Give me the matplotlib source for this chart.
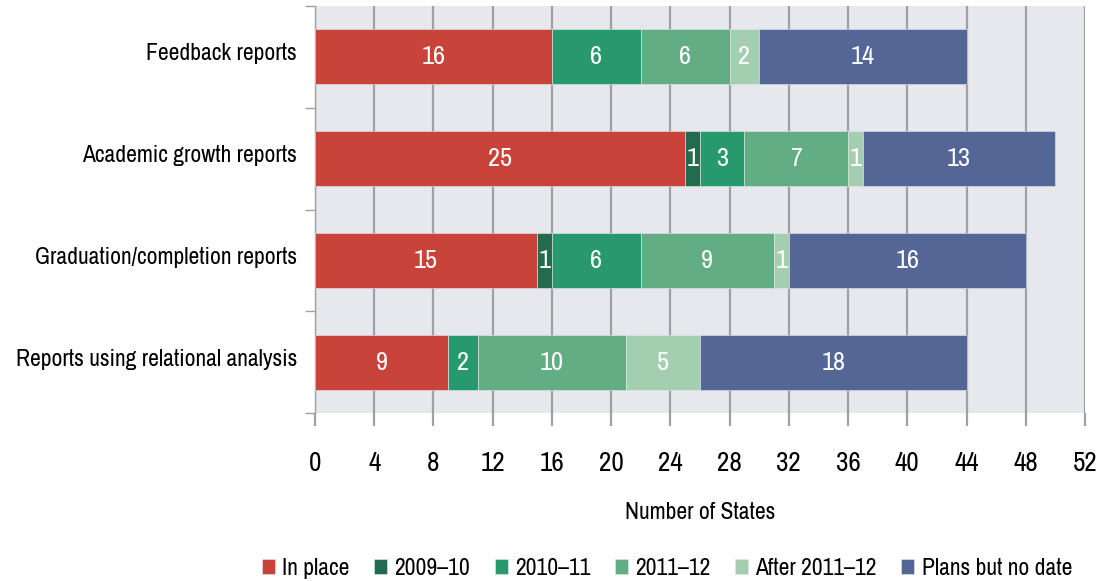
import matplotlib
matplotlib.use("Agg")
import matplotlib.pyplot as plt
import matplotlib.transforms as mtransforms
from matplotlib.ticker import FixedLocator
from matplotlib import font_manager

installed = {f.name for f in font_manager.fontManager.ttflist}
preferred = ["Arial Narrow", "Liberation Sans Narrow", "Archivo Narrow",
             "PT Sans Narrow", "Roboto Condensed", "Liberation Sans"]
family = [f for f in preferred if f in installed][:1] + ["DejaVu Sans"]
plt.rcParams["font.family"] = family

categories = [
    "Feedback reports",
    "Academic growth reports",
    "Graduation/completion reports",
    "Reports using relational analysis",
]
series_names = ["In place", "2009\u201310", "2010\u201311", "2011\u201312",
                "After 2011\u201312", "Plans but no date"]
in_place = [16, 25, 15, 9]
y2009_10 = [0, 1, 1, 0]
y2010_11 = [6, 3, 6, 2]
y2011_12 = [6, 7, 9, 10]
after_2011_12 = [2, 1, 1, 5]
plans_no_date = [14, 13, 16, 18]
series_values = [in_place, y2009_10, y2010_11, y2011_12, after_2011_12, plans_no_date]
x_ticks = list(range(0, 53, 4))

colors = ["#c8443a", "#226b4f", "#28996e", "#62ad84", "#a3cfb0", "#536696"]

fig = plt.figure(figsize=(11.06, 5.81), dpi=100)
ax = fig.add_axes([0.2848, 0.289, 0.6962, 0.7007])
ax.set_facecolor("#e7e8ee")

ypos = list(range(len(categories)))
left = [0] * len(categories)
for name, vals, col in zip(series_names, series_values, colors):
    bars = ax.barh(ypos, vals, left=left, height=0.54, color=col, label=name,
                   edgecolor="#e7e8ee", linewidth=0.4, zorder=3)
    for b, v in zip(bars, vals):
        if v > 0:
            ax.text(b.get_x() + b.get_width() / 2, b.get_y() + b.get_height() / 2,
                    str(v), ha="center", va="center", color="white",
                    fontsize=19, zorder=4)
    left = [l + v for l, v in zip(left, vals)]

ax.set_xlim(0, 52)
ax.set_ylim(len(categories) - 0.5, -0.5)
ax.set_xticks(x_ticks)
ax.set_xticklabels([str(t) for t in x_ticks], fontsize=19.5)
ax.tick_params(axis="x", direction="out", length=9, width=1.6, color="#a0a0a0",
               pad=18)
ax.xaxis.grid(True, color="#a0a0a0", linewidth=1.6, zorder=1)
ax.set_axisbelow(True)

ax.set_yticks(ypos)
ax.set_yticklabels(categories, fontsize=17)
ax.tick_params(axis="y", which="major", length=0, pad=13)
# category labels sit a little above the bar centre
lift = mtransforms.ScaledTranslation(0, 0.05, fig.dpi_scale_trans)
for lbl in ax.get_yticklabels():
    lbl.set_transform(lbl.get_transform() + lift)
ax.yaxis.set_minor_locator(FixedLocator([-0.5, 0.5, 1.5, 2.5, 3.5]))
ax.tick_params(axis="y", which="minor", length=7, width=1.0, color="#a0a0a0",
               direction="out")

for side in ["top", "right", "bottom"]:
    ax.spines[side].set_visible(False)
ax.spines["left"].set_color("#a0a0a0")
ax.spines["left"].set_linewidth(1.0)

ax.set_xlabel("Number of States", fontsize=17, labelpad=19)

handles, labels = ax.get_legend_handles_labels()
fig.legend(handles, labels, loc="lower center", bbox_to_anchor=(0.603, -0.033),
           ncol=6, frameon=False, fontsize=17, handlelength=0.55,
           handleheight=0.55, handletextpad=0.3, columnspacing=1.05)

fig.savefig("out.png", dpi=100)
